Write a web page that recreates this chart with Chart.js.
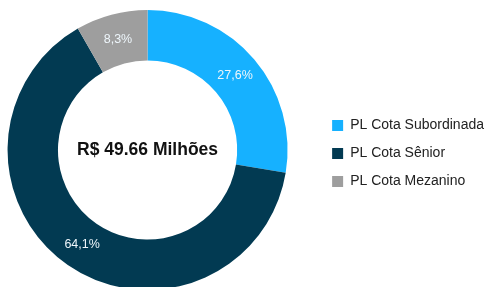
<!DOCTYPE html>
<html>
<head>
<meta charset="utf-8">
<script src="https://cdn.jsdelivr.net/npm/chart.js@4.4.0/dist/chart.umd.min.js"></script>
<style>
  html, body { margin: 0; padding: 0; background: #fff; overflow: hidden; }
  #wrap { position: absolute; left: -40px; top: 0; width: 534px; height: 290px; }
</style>
</head>
<body>
<div id="wrap"><canvas id="pie"></canvas></div>
<script>
var labels = ['PL Cota Subordinada', 'PL Cota Sênior', 'PL Cota Mezanino'];
var values = [27.6, 64.1, 8.3];
var colors = ['#16b1ff', '#023a52', '#9e9e9e'];
var centerText = 'R$ 49.66 Milhões';

var FONT = "Arial, 'Liberation Sans', sans-serif";

// percent labels inside each slice
var sliceLabels = {
  id: 'sliceLabels',
  afterDatasetsDraw: function(chart) {
    var ctx = chart.ctx;
    var meta = chart.getDatasetMeta(0);
    ctx.save();
    ctx.font = '12.5px ' + FONT;
    ctx.fillStyle = '#eef6fb';
    ctx.textAlign = 'center';
    ctx.textBaseline = 'middle';
    meta.data.forEach(function(arc, i) {
      var p = arc.tooltipPosition();
      ctx.fillText(values[i].toFixed(1).replace('.', ',') + '%', p.x, p.y);
    });
    ctx.restore();
  }
};

var centerLabel = {
  id: 'centerLabel',
  afterDatasetsDraw: function(chart) {
    var ctx = chart.ctx;
    var arc = chart.getDatasetMeta(0).data[0];
    ctx.save();
    ctx.font = 'bold 17.5px ' + FONT;
    ctx.fillStyle = '#111';
    ctx.textAlign = 'center';
    ctx.textBaseline = 'middle';
    ctx.fillText(centerText, arc.x, arc.y);
    ctx.restore();
  }
};

var ctx = document.getElementById('pie').getContext('2d');
var chart = new Chart(ctx, {
  type: 'doughnut',
  data: {
    labels: labels,
    datasets: [{
      data: values,
      backgroundColor: colors,
      hoverBackgroundColor: colors,
      borderWidth: 0
    }]
  },
  options: {
    responsive: true,
    maintainAspectRatio: false,
    animation: false,
    cutout: '64%',
    layout: { padding: { left: 17, top: 10, right: 0, bottom: 0 } },
    plugins: {
      tooltip: { enabled: false },
      legend: {
        position: 'right',
        align: 'center',
        // empty title only nudges the items down a bit
        title: { display: true, text: ' ', padding: 0, font: { size: 6 } },
        labels: {
          boxWidth: 11,
          boxHeight: 11,
          padding: 14,
          color: '#222',
          font: { size: 14, family: FONT }
        }
      }
    }
  },
  plugins: [sliceLabels, centerLabel]
});
</script>
</body>
</html>
